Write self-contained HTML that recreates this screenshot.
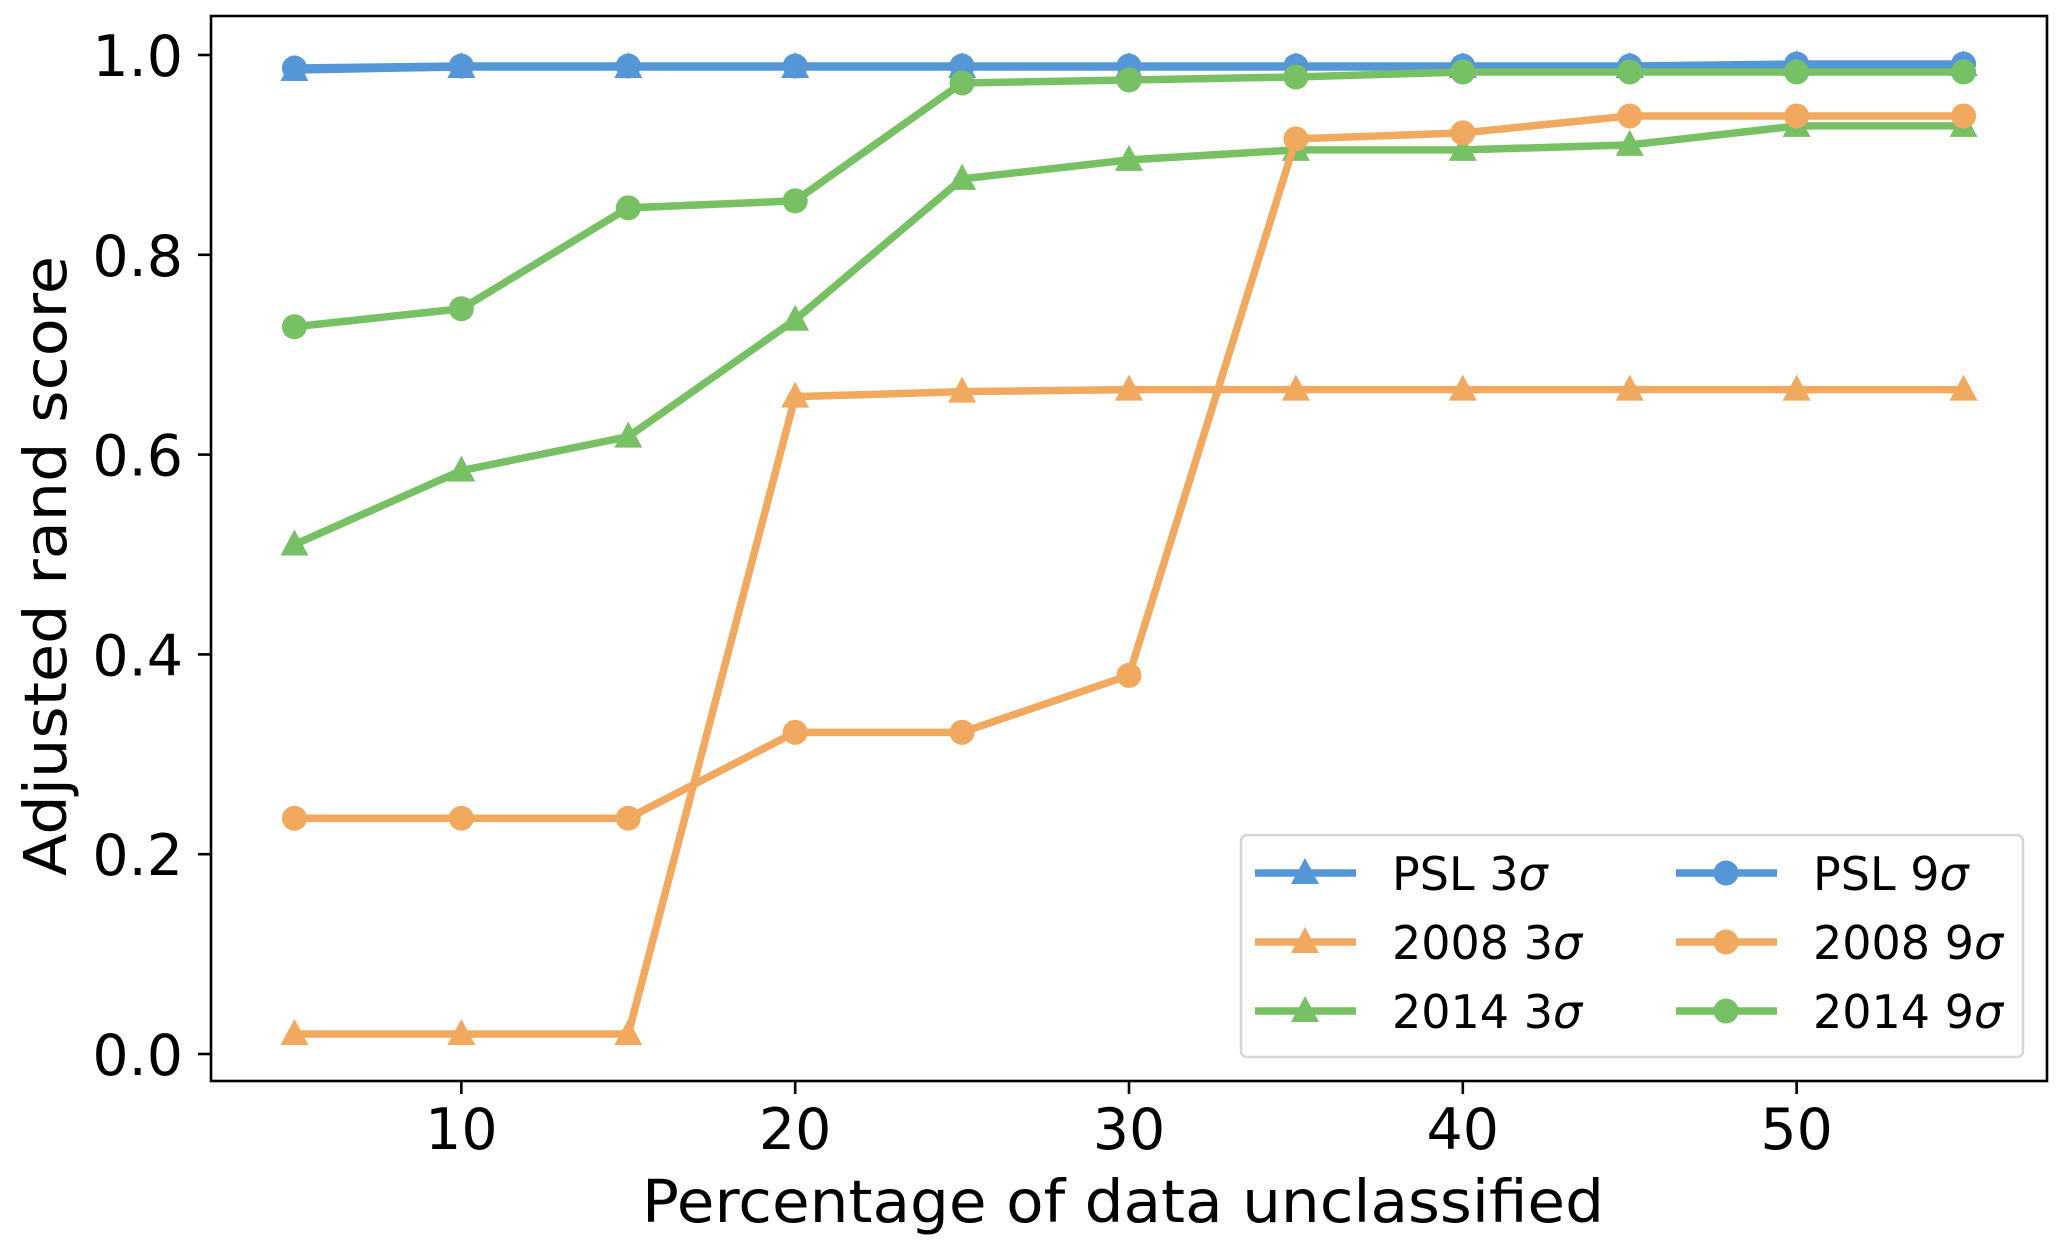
<!DOCTYPE html>
<html><head><meta charset="utf-8"><style>
html,body{margin:0;padding:0;background:#fff}
svg{display:block;font-family:"DejaVu Sans","Liberation Sans",sans-serif}
</style></head><body>
<svg id="chart" width="2067" height="1252" viewBox="0 0 2067 1252" xmlns="http://www.w3.org/2000/svg">
<g id="plot"></g>
<g id="axes"></g>
<g id="legend"></g>
</svg>
<script>
const xs = [5,10,15,20,25,30,35,40,45,50,55];
const psl3 = [0.985,0.988,0.988,0.988,0.988,0.988,0.988,0.988,0.988,0.990,0.990];
const y2008_3 = [0.020,0.020,0.020,0.658,0.663,0.665,0.665,0.665,0.665,0.665,0.665];
const y2014_3 = [0.510,0.584,0.618,0.735,0.876,0.895,0.905,0.905,0.910,0.929,0.929];
const psl9 = [0.987,0.989,0.989,0.989,0.989,0.989,0.989,0.989,0.989,0.991,0.991];
const y2008_9 = [0.236,0.236,0.236,0.322,0.322,0.379,0.916,0.922,0.939,0.939,0.939];
const y2014_9 = [0.728,0.746,0.847,0.854,0.972,0.975,0.978,0.983,0.983,0.983,0.983];
const xTicks = [10,20,30,40,50];
const yTicks = [0.0,0.2,0.4,0.6,0.8,1.0];
const yTickLabels = ["0.0","0.2","0.4","0.6","0.8","1.0"];

const NS="http://www.w3.org/2000/svg";
const L=211,R=2047,T=16,B=1081;
function X(v){return L+(v-2.5)/55*(R-L);}
function Y(v){return 1054-(v)*999;}
function mk(tag,attrs,parent){const e=document.createElementNS(NS,tag);for(const k in attrs)e.setAttribute(k,attrs[k]);parent.appendChild(e);return e;}
const plot=document.getElementById('plot'),axes=document.getElementById('axes'),leg=document.getElementById('legend');
const BLUE="#5596d6",ORANGE="#f0a95f",GREEN="#77c063";
const series=[
 {name:"PSL 3",id:"psl-3sigma",d:psl3,c:BLUE,m:"tri"},
 {name:"2008 3",id:"2008-3sigma",d:y2008_3,c:ORANGE,m:"tri"},
 {name:"2014 3",id:"2014-3sigma",d:y2014_3,c:GREEN,m:"tri"},
 {name:"PSL 9",id:"psl-9sigma",d:psl9,c:BLUE,m:"circ"},
 {name:"2008 9",id:"2008-9sigma",d:y2008_9,c:ORANGE,m:"circ"},
 {name:"2014 9",id:"2014-9sigma",d:y2014_9,c:GREEN,m:"circ"}];
function marker(type,cx,cy,c,parent){
 let e;
 if(type==="tri"){e=mk('polygon',{points:`${cx},${cy-15} ${cx-14},${cy+11} ${cx+14},${cy+11}`,fill:c},parent);}
 else{e=mk('circle',{cx:cx,cy:cy,r:12.5,fill:c},parent);}
 return e;
}
series.forEach(s=>{
 const g=mk('g',{},plot);
 
 
 const pts=xs.map((x,i)=>X(x)+','+Y(s.d[i])).join(' ');
 const pl=mk('polyline',{points:pts,fill:'none',stroke:s.c,'stroke-width':7.5,'stroke-linejoin':'round'},g);
 
 
 xs.forEach((x,i)=>{const m=marker(s.m,X(x),Y(s.d[i]),s.c,g);
  
  });
});
const fr=mk('rect',{x:L,y:T,width:R-L,height:B-T,fill:'none',stroke:'#000','stroke-width':2.6},axes);


xTicks.forEach(t=>{
 mk('line',{x1:X(t),x2:X(t),y1:B,y2:B+13,stroke:'#000','stroke-width':2.6},axes);
 const tx=mk('text',{x:X(t),y:1149,'font-size':57,'text-anchor':'middle',fill:'#000'},axes);tx.textContent=String(t);
 
 
});
yTicks.forEach((t,i)=>{
 mk('line',{x1:L-13,x2:L,y1:Y(t),y2:Y(t),stroke:'#000','stroke-width':2.6},axes);
 const tx=mk('text',{x:183,y:Y(t)+21,'font-size':57,'text-anchor':'end',fill:'#000'},axes);tx.textContent=yTickLabels[i];
 
 
});
const xl=mk('text',{x:1123,y:1222,'font-size':59,'text-anchor':'middle',textLength:962,lengthAdjust:'spacingAndGlyphs'},axes);
xl.textContent="Percentage of data unclassified";


const yl=mk('text',{x:0,y:0,'font-size':59,'text-anchor':'middle',textLength:620,lengthAdjust:'spacingAndGlyphs',transform:'translate(66,566) rotate(-90)'},axes);
yl.textContent="Adjusted rand score";


const lb=mk('rect',{x:1241,y:835,width:782,height:222,rx:6,fill:'#fff','fill-opacity':0.85,stroke:'#d6d6d6','stroke-width':2.5},leg);


const rows=[873,942,1011],cols=[[1255,1392],[1676,1813]];
series.forEach((s,i)=>{
 const col=Math.floor(i/3),row=i%3;const y=rows[row],x0=cols[col][0];
 const g=mk('g',{},leg);
 
 
 mk('line',{x1:x0,x2:x0+101,y1:y,y2:y,stroke:s.c,'stroke-width':7.5},g);
 marker(s.m,x0+50,y,s.c,g);
 const t=mk('text',{x:cols[col][1],y:y+17,'font-size':46,fill:'#000'},g);t.textContent=s.name;
 const sg=mk('tspan',{'font-style':'italic'},t);sg.textContent="σ";
});
</script>
</body></html>
